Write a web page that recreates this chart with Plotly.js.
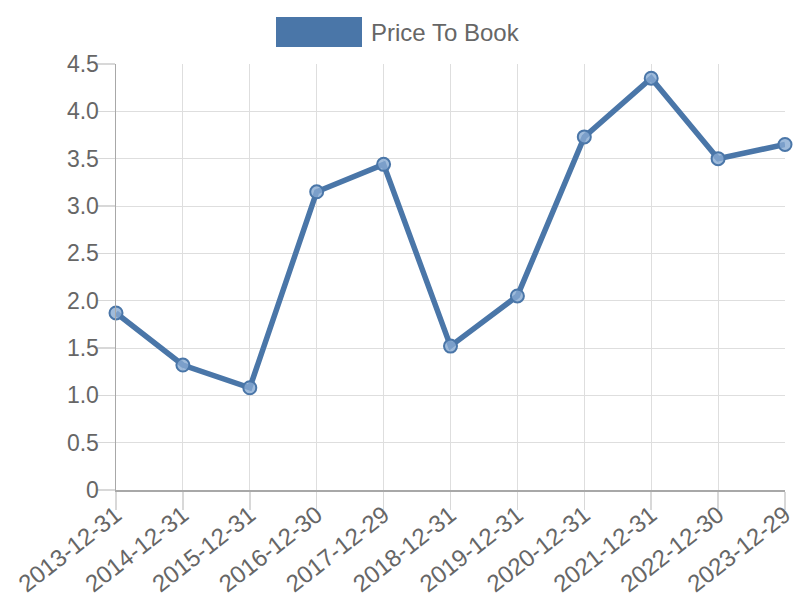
<!DOCTYPE html>
<html><head><meta charset="utf-8">
<script src="https://cdn.plot.ly/plotly-3.0.1.min.js"></script>
<style>html,body{margin:0;padding:0;background:#fff}#chart{width:800px;height:600px}</style>
</head><body><div id="chart"></div>
<script>
const dates = ["2013-12-31","2014-12-31","2015-12-31","2016-12-30","2017-12-29","2018-12-31","2019-12-31","2020-12-31","2021-12-31","2022-12-30","2023-12-29"];
const priceToBook = [1.87, 1.32, 1.08, 3.15, 3.44, 1.52, 2.05, 3.73, 4.35, 3.50, 3.65];
const seriesName = "Price To Book";
const lineColor = "#4a76a8";
const yTickVals = [0,0.5,1,1.5,2,2.5,3,3.5,4,4.5];
const yTickText = ["0","0.5","1.0","1.5","2.0","2.5","3.0","3.5","4.0","4.5"];

const trace = {
  x: dates, y: priceToBook, type: "scatter", mode: "lines+markers", name: seriesName,
  line: {color: lineColor, width: 5.5},
  marker: {size: 13, color: "rgba(135,170,210,0.8)", line: {color: lineColor, width: 2}},
  showlegend: false, cliponaxis: false
};
const layout = {
  width: 800, height: 600,
  margin: {l: 116, r: 15, t: 64, b: 110},
  paper_bgcolor: "#fff", plot_bgcolor: "#fff",
  font: {family: "Liberation Sans, Arial, sans-serif", size: 24, color: "#666"},
  xaxis: {type: "category", range: [0, 10], showgrid: true, gridcolor: "#dedede", gridwidth: 1,
    ticks: "outside", ticklen: 18, tickcolor: "#d8d8d8", tickwidth: 1.5, tickangle: -38, ticklabelstandoff: -18,
    showline: true, linecolor: "#a8a8a8", linewidth: 1.5, zeroline: false,
    tickfont: {size: 24, color: "#666"}},
  yaxis: {range: [0, 4.5], showgrid: true, gridcolor: "#dedede",
    ticks: "outside", ticklen: 18, tickcolor: "#d8d8d8", tickwidth: 1.5, showline: true, linecolor: "#a8a8a8", linewidth: 1.5,
    zeroline: false, tickfont: {size: 23, color: "#666"}, ticklabelstandoff: -7,
    tickvals: yTickVals, ticktext: yTickText},
  shapes: [{type: "rect", xref: "paper", yref: "paper", x0: (276-116)/669, x1: (362-116)/669,
    y0: 1 + (64-47)/426, y1: 1 + (64-17)/426, fillcolor: lineColor, line: {width: 0}}],
  annotations: [{xref: "paper", yref: "paper", x: (369-116)/669, y: 1 + (64-32)/426,
    xanchor: "left", yanchor: "middle", text: seriesName, showarrow: false,
    font: {size: 24, color: "#666"}}]
};
Plotly.newPlot("chart", [trace], layout, {displayModeBar: false, staticPlot: true});
</script></body></html>
